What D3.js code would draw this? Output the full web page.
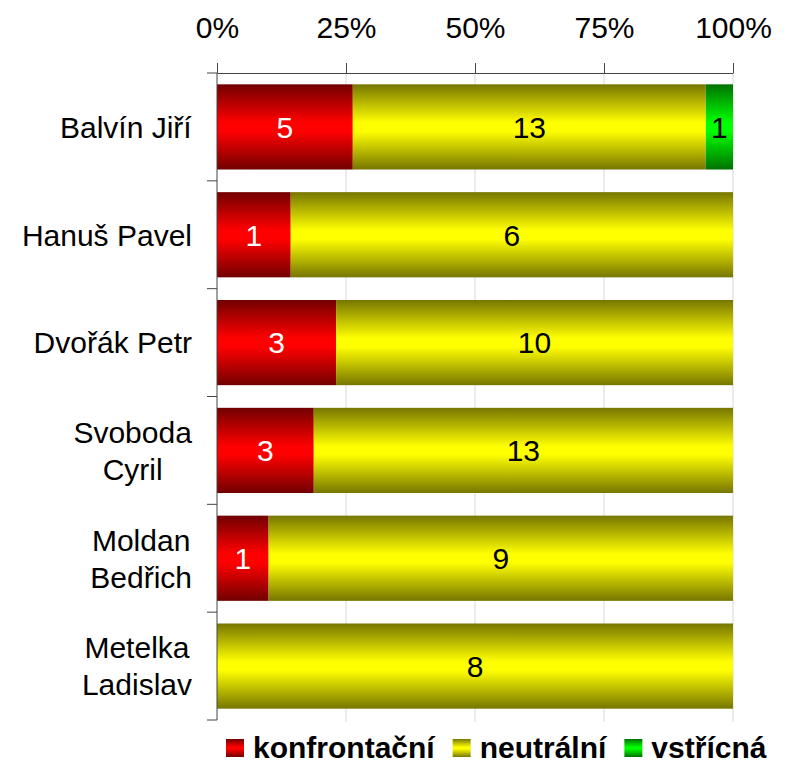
<!DOCTYPE html>
<html>
<head>
<meta charset="utf-8">
<script src="https://cdn.jsdelivr.net/npm/d3@7"></script>
<style>
  body { margin: 0; background: #fff; }
  svg { font-family: "Liberation Sans", Arial, sans-serif; }
</style>
</head>
<body>
<script>
// names and counts per category
var names = [["Balvín Jiří"], ["Hanuš Pavel"], ["Dvořák Petr"], ["Svoboda", "Cyril"], ["Moldan", "Bedřich"], ["Metelka", "Ladislav"]];
var series = ["konfrontační", "neutrální", "vstřícná"];
var konfrontacni = [5, 1, 3, 3, 1, 0];
var neutralni = [13, 6, 10, 13, 9, 8];
var vstricna = [1, 0, 0, 0, 0, 0];
var tickValues = [0, 0.25, 0.5, 0.75, 1];

var darkCols = ["#720000", "#767600", "#007200"];
var brightCols = ["#ff0000", "#ffff00", "#00ff00"];
var textCols = ["#fff", "#000", "#000"];

var width = 791, height = 766;
var svg = d3.select("body").append("svg")
    .attr("width", width)
    .attr("height", height);

var defs = svg.append("defs");
series.forEach(function (s, i) {
  var g = defs.append("linearGradient")
      .attr("id", "grad" + i)
      .attr("x1", 0).attr("y1", 0).attr("x2", 0).attr("y2", 1);
  g.append("stop").attr("offset", "0%").attr("stop-color", darkCols[i]);
  g.append("stop").attr("offset", "45%").attr("stop-color", brightCols[i]);
  g.append("stop").attr("offset", "55%").attr("stop-color", brightCols[i]);
  g.append("stop").attr("offset", "100%").attr("stop-color", darkCols[i]);
});

var keys = names.map(function (d) { return d.join(" "); });
var rows = keys.map(function (k, i) {
  var total = konfrontacni[i] + neutralni[i] + vstricna[i];
  return { key: k, vals: [konfrontacni[i], neutralni[i], vstricna[i]], total: total };
});

var x = d3.scaleLinear().domain([0, 1]).range([217, 733]);
var y = d3.scaleBand().domain(keys).range([73, 720]).paddingInner(0.21).paddingOuter(0.105);

// light grid lines
svg.append("g").selectAll("line")
  .data(tickValues.slice(1))
  .enter().append("line")
  .attr("x1", function (d) { return x(d); })
  .attr("x2", function (d) { return x(d); })
  .attr("y1", 73).attr("y2", 722)
  .attr("stroke", "#d8d8d8").attr("stroke-width", 1);

// stacked segments
var segs = [];
rows.forEach(function (r) {
  var acc = 0;
  r.vals.forEach(function (v, i) {
    if (v > 0) segs.push({ key: r.key, i: i, v: v, x0: acc / r.total, x1: (acc + v) / r.total });
    acc += v;
  });
});

svg.append("g").selectAll("rect")
  .data(segs)
  .enter().append("rect")
  .attr("x", function (d) { return x(d.x0); })
  .attr("width", function (d) { return x(d.x1) - x(d.x0); })
  .attr("y", function (d) { return y(d.key); })
  .attr("height", y.bandwidth())
  .attr("fill", function (d) { return "url(#grad" + d.i + ")"; });

svg.append("g").selectAll("text")
  .data(segs)
  .enter().append("text")
  .attr("x", function (d) { return (x(d.x0) + x(d.x1)) / 2; })
  .attr("y", function (d) { return y(d.key) + y.bandwidth() / 2; })
  .attr("dy", "0.36em")
  .attr("text-anchor", "middle")
  .attr("font-size", 30)
  .attr("fill", function (d) { return textCols[d.i]; })
  .text(function (d) { return d.v; });

// top axis
var xAxis = d3.axisTop(x)
    .tickValues(tickValues)
    .tickFormat(d3.format(".0%"))
    .tickSize(10)
    .tickSizeOuter(0)
    .tickPadding(25);
var ax = svg.append("g").attr("transform", "translate(0,73)").call(xAxis);
ax.selectAll("path, line").attr("stroke", "#444");
ax.selectAll("text").attr("font-size", 30).attr("fill", "#000")
  .attr("font-family", "\"Liberation Sans\", Arial, sans-serif");

// left axis with ticks between categories
var yr = y.range();
var bounds = d3.range(keys.length + 1).map(function (i) { return yr[0] + i * y.step(); });
var ya = svg.append("g");
ya.append("line").attr("x1", 217).attr("x2", 217).attr("y1", yr[0]).attr("y2", bounds[bounds.length - 1])
  .attr("stroke", "#444");
ya.selectAll(".tk").data(bounds).enter().append("line")
  .attr("class", "tk")
  .attr("x1", 207).attr("x2", 217)
  .attr("y1", function (d) { return d; }).attr("y2", function (d) { return d; })
  .attr("stroke", "#444");

// category labels, centred lines, block right-aligned
var lh = 37;
names.forEach(function (lines, i) {
  var cy = y(keys[i]) + y.bandwidth() / 2;
  var t = svg.append("text")
      .attr("font-size", 30)
      .attr("fill", "#000")
      .attr("text-anchor", "middle");
  lines.forEach(function (l, j) {
    t.append("tspan")
      .attr("x", 0)
      .attr("y", cy + (j - (lines.length - 1) / 2) * lh)
      .attr("dy", "0.36em")
      .text(l);
  });
  var w = t.node().getBBox().width;
  t.selectAll("tspan").attr("x", 192 - w / 2);
});

// legend
var lg = svg.append("g");
var lx = 226, ly = 747;
series.forEach(function (s, i) {
  lg.append("rect")
    .attr("x", lx).attr("y", ly - 8).attr("width", 18).attr("height", 18)
    .attr("fill", "url(#grad" + i + ")");
  var t = lg.append("text")
    .attr("x", lx + 27).attr("y", ly).attr("dy", "0.36em")
    .attr("font-size", 30).attr("font-weight", "bold")
    .text(s);
  lx += 27 + t.node().getComputedTextLength() + 18;
});
</script>
</body>
</html>
